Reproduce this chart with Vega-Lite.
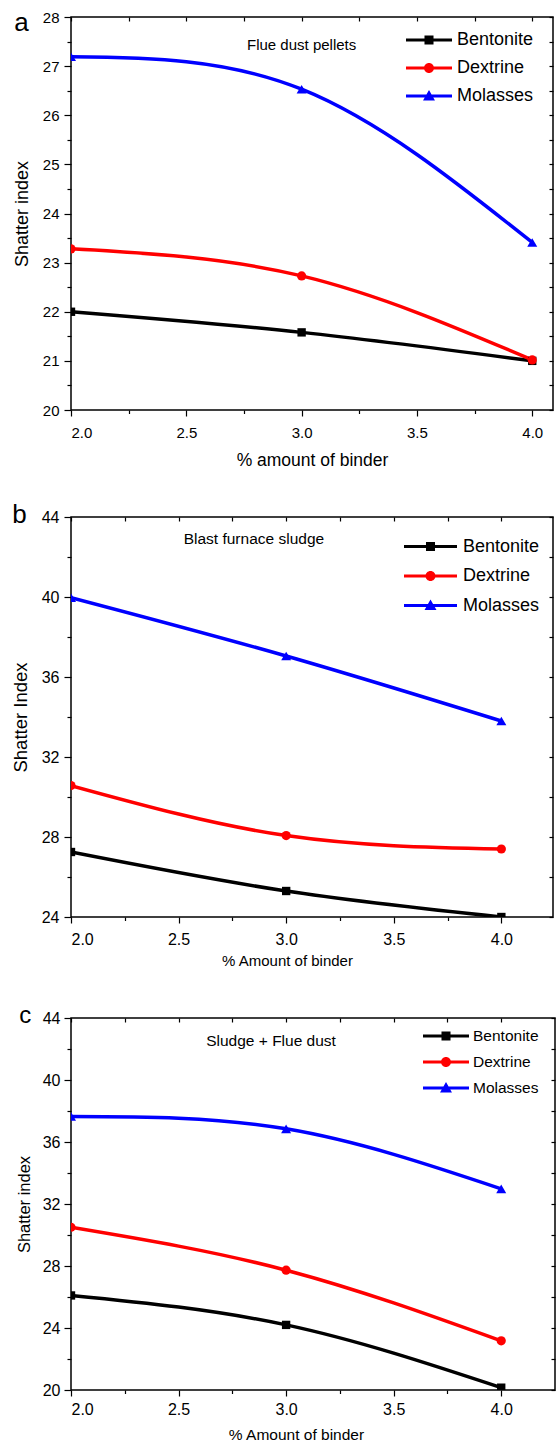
{
  "$schema": "https://vega.github.io/schema/vega-lite/v6.json",
  "background": "white",
  "padding": {"left": 10, "top": 9, "right": 0, "bottom": 0},
  "autosize": {"type": "pad"},
  "config": {
    "font": "Liberation Sans",
    "view": {"stroke": "#000000", "strokeWidth": 1.5},
    "axis": {"domain": false, "grid": false, "tickColor": "#000000", "tickWidth": 1.2, "labelColor": "#000000", "titleColor": "#000000", "labelFont": "Liberation Sans", "titleFont": "Liberation Sans", "titleFontWeight": "normal"},
    "legend": {"labelFont": "Liberation Sans", "labelColor": "#000000", "symbolStrokeWidth": 0, "padding": 0, "labelLimit": 300, "symbolOpacity": 1},
    "title": {"font": "Liberation Sans", "fontWeight": "normal", "color": "#000000"}
  },
  "datasets": {
    "flue_dust": [
      {"binder": "Bentonite", "amount": 2.0, "shatter": 22.0},
      {"binder": "Bentonite", "amount": 3.0, "shatter": 21.58},
      {"binder": "Bentonite", "amount": 4.0, "shatter": 21.0},
      {"binder": "Dextrine", "amount": 2.0, "shatter": 23.28},
      {"binder": "Dextrine", "amount": 3.0, "shatter": 22.73},
      {"binder": "Dextrine", "amount": 4.0, "shatter": 21.02},
      {"binder": "Molasses", "amount": 2.0, "shatter": 27.19},
      {"binder": "Molasses", "amount": 3.0, "shatter": 26.53},
      {"binder": "Molasses", "amount": 4.0, "shatter": 23.41}
    ],
    "sludge": [
      {"binder": "Bentonite", "amount": 2.0, "shatter": 27.25},
      {"binder": "Bentonite", "amount": 3.0, "shatter": 25.3},
      {"binder": "Bentonite", "amount": 4.0, "shatter": 24.0},
      {"binder": "Dextrine", "amount": 2.0, "shatter": 30.57},
      {"binder": "Dextrine", "amount": 3.0, "shatter": 28.07},
      {"binder": "Dextrine", "amount": 4.0, "shatter": 27.4},
      {"binder": "Molasses", "amount": 2.0, "shatter": 39.97},
      {"binder": "Molasses", "amount": 3.0, "shatter": 37.05},
      {"binder": "Molasses", "amount": 4.0, "shatter": 33.8}
    ],
    "mixed": [
      {"binder": "Bentonite", "amount": 2.0, "shatter": 26.1},
      {"binder": "Bentonite", "amount": 3.0, "shatter": 24.2},
      {"binder": "Bentonite", "amount": 4.0, "shatter": 20.15},
      {"binder": "Dextrine", "amount": 2.0, "shatter": 30.5},
      {"binder": "Dextrine", "amount": 3.0, "shatter": 27.73},
      {"binder": "Dextrine", "amount": 4.0, "shatter": 23.17},
      {"binder": "Molasses", "amount": 2.0, "shatter": 37.65},
      {"binder": "Molasses", "amount": 3.0, "shatter": 36.85},
      {"binder": "Molasses", "amount": 4.0, "shatter": 32.98}
    ]
  },
  "bounds": "flush",
  "spacing": 107,
  "resolve": {"scale": {"color": "independent", "shape": "independent"}, "legend": {"color": "independent", "shape": "independent"}},
  "vconcat": [
    {
      "width": 482,
      "height": 393,
      "data": {"name": "flue_dust"},
      "title": {"text": "a", "anchor": "start", "frame": "bounds", "fontSize": 26, "baseline": "alphabetic", "offset": -27, "dy": 20, "dx": 1},
      "encoding": {
        "color": {"field": "binder", "type": "nominal", "scale": {"domain": ["Bentonite", "Dextrine", "Molasses"], "range": ["#000000", "#ff0000", "#0000ff"]},
          "legend": {"title": null, "orient": "none", "legendX": 335, "legendY": 11, "direction": "vertical", "symbolSize": 2116, "clipHeight": 24, "rowPadding": 4, "labelOffset": 5, "labelFontSize": 18}}
      },
      "layer": [
        {
          "mark": {"type": "line", "strokeWidth": 3.5, "interpolate": "natural", "clip": true},
          "encoding": {
            "x": {"field": "amount", "type": "quantitative", "scale": {"domain": [2, 4.09], "nice": false, "zero": false},
              "axis": {"orient": "bottom", "values": [2, 2.5, 3, 3.5, 4], "format": ".1f", "tickSize": 6, "labelPadding": 9, "labelFontSize": 15, "title": "% amount of binder", "titleFontSize": 17.5, "titlePadding": 11}},
            "y": {"field": "shatter", "type": "quantitative", "scale": {"domain": [20, 28], "nice": false, "zero": false},
              "axis": {"orient": "left", "values": [20, 21, 22, 23, 24, 25, 26, 27, 28], "tickSize": 7, "labelPadding": 5, "labelFontSize": 15, "title": "Shatter index", "titleFontSize": 18, "titlePadding": 11}}
          }
        },
        {
          "transform": [{"filter": "datum.binder === 'Bentonite'"}],
          "mark": {"type": "point", "shape": "square", "filled": true, "opacity": 1, "size": 70, "clip": true},
          "encoding": {
            "x": {"field": "amount", "type": "quantitative", "scale": {"domain": [2, 4.09], "nice": false, "zero": false},
              "axis": {"orient": "bottom", "values": [2.25, 2.75, 3.25, 3.75], "tickSize": 3.5, "labels": false, "title": null}},
            "y": {"field": "shatter", "type": "quantitative", "scale": {"domain": [20, 28], "nice": false, "zero": false},
              "axis": {"orient": "left", "values": [20.5, 21.5, 22.5, 23.5, 24.5, 25.5, 26.5, 27.5], "tickSize": 4, "labels": false, "title": null}}
          }
        },
        {
          "transform": [{"filter": "datum.binder === 'Dextrine'"}],
          "mark": {"type": "point", "shape": "circle", "filled": true, "opacity": 1, "size": 85, "clip": true},
          "encoding": {
            "x": {"field": "amount", "type": "quantitative", "scale": {"domain": [2, 4.09], "nice": false, "zero": false}, "axis": null},
            "y": {"field": "shatter", "type": "quantitative", "scale": {"domain": [20, 28], "nice": false, "zero": false}, "axis": null}
          }
        },
        {
          "transform": [{"filter": "datum.binder === 'Molasses'"}],
          "mark": {"type": "point", "shape": "triangle-up", "filled": true, "opacity": 1, "size": 100, "clip": true},
          "encoding": {
            "x": {"field": "amount", "type": "quantitative", "scale": {"domain": [2, 4.09], "nice": false, "zero": false}, "axis": null},
            "y": {"field": "shatter", "type": "quantitative", "scale": {"domain": [20, 28], "nice": false, "zero": false}, "axis": null}
          }
        },
        {
          "transform": [{"filter": "false"}],
          "mark": {"type": "point", "filled": true},
          "encoding": {
            "x": {"field": "amount", "type": "quantitative", "scale": {"domain": [2, 4.09], "nice": false, "zero": false}, "axis": null},
            "y": {"field": "shatter", "type": "quantitative", "scale": {"domain": [20, 28], "nice": false, "zero": false}, "axis": null},
            "shape": {"field": "binder", "type": "nominal",
              "scale": {"domain": ["Bentonite", "Dextrine", "Molasses"], "range": ["M-1,-0.07L1,-0.07L1,0.07L-1,0.07Z M-0.196,-0.196L0.196,-0.196L0.196,0.196L-0.196,0.196Z", "M-1,-0.07L1,-0.07L1,0.07L-1,0.07Z M-0.217,0A0.217,0.217 0 1,1 0.217,0A0.217,0.217 0 1,1 -0.217,0Z", "M-1,-0.07L1,-0.07L1,0.07L-1,0.07Z M0,-0.26L0.26,0.2L-0.26,0.2Z"]},
              "legend": {"title": null, "orient": "none", "legendX": 335, "legendY": 11, "direction": "vertical", "symbolSize": 2116, "clipHeight": 24, "rowPadding": 4, "labelOffset": 5, "labelFontSize": 18}}
          }
        },
        {
          "data": {"values": [{"label": "Flue dust pellets"}]},
          "mark": {"type": "text", "fontSize": 15, "align": "center", "baseline": "middle"},
          "encoding": {
            "x": {"datum": 3.0, "type": "quantitative", "scale": {"domain": [2, 4.09], "nice": false, "zero": false},
              "axis": {"orient": "top", "values": [2, 2.25, 2.5, 2.75, 3, 3.25, 3.5, 3.75, 4], "tickSize": -4, "labels": false, "title": null}},
            "y": {"datum": 27.43, "type": "quantitative", "scale": {"domain": [20, 28], "nice": false, "zero": false},
              "axis": {"orient": "right", "values": [20, 20.5, 21, 21.5, 22, 22.5, 23, 23.5, 24, 24.5, 25, 25.5, 26, 26.5, 27, 27.5, 28], "tickSize": -4, "labels": false, "title": null}},
            "text": {"field": "label"},
            "color": {"value": "#000000"}
          }
        }
      ],
      "resolve": {"axis": {"x": "independent", "y": "independent"}}
    },
    {
      "bounds": "flush",
      "spacing": 101,
      "resolve": {"scale": {"color": "independent", "shape": "independent"}, "legend": {"color": "independent", "shape": "independent"}},
      "vconcat": [
        {
          "width": 482,
          "height": 400,
          "data": {"name": "sludge"},
          "title": {"text": "b", "anchor": "start", "frame": "bounds", "fontSize": 26, "baseline": "alphabetic", "offset": -25, "dy": 15, "dx": 1},
          "encoding": {
            "color": {"field": "binder", "type": "nominal", "scale": {"domain": ["Bentonite", "Dextrine", "Molasses"], "range": ["#000000", "#ff0000", "#0000ff"]},
              "legend": {"title": null, "orient": "none", "legendX": 333, "legendY": 17, "direction": "vertical", "symbolSize": 2809, "clipHeight": 25, "rowPadding": 4.5, "labelOffset": 6, "labelFontSize": 18}}
          },
          "layer": [
            {
              "mark": {"type": "line", "strokeWidth": 3.5, "interpolate": "natural", "clip": true},
              "encoding": {
                "x": {"field": "amount", "type": "quantitative", "scale": {"domain": [2, 4.24], "nice": false, "zero": false},
                  "axis": {"orient": "bottom", "values": [2, 2.5, 3, 3.5, 4], "format": ".1f", "tickSize": 6, "labelPadding": 8, "labelFontSize": 16, "title": "% Amount of binder", "titleFontSize": 15, "titlePadding": 6, "titleX": 216}},
                "y": {"field": "shatter", "type": "quantitative", "scale": {"domain": [24, 44], "nice": false, "zero": false},
                  "axis": {"orient": "left", "values": [24, 28, 32, 36, 40, 44], "tickSize": 7, "labelPadding": 5, "labelFontSize": 16, "title": "Shatter Index", "titleFontSize": 18.5, "titlePadding": 11}}
              }
            },
            {
              "transform": [{"filter": "datum.binder === 'Bentonite'"}],
              "mark": {"type": "point", "shape": "square", "filled": true, "opacity": 1, "size": 70, "clip": true},
              "encoding": {
                "x": {"field": "amount", "type": "quantitative", "scale": {"domain": [2, 4.24], "nice": false, "zero": false},
                  "axis": {"orient": "bottom", "values": [2.25, 2.75, 3.25, 3.75], "tickSize": 3.5, "labels": false, "title": null}},
                "y": {"field": "shatter", "type": "quantitative", "scale": {"domain": [24, 44], "nice": false, "zero": false},
                  "axis": {"orient": "left", "values": [26, 30, 34, 38, 42], "tickSize": 4, "labels": false, "title": null}}
              }
            },
            {
              "transform": [{"filter": "datum.binder === 'Dextrine'"}],
              "mark": {"type": "point", "shape": "circle", "filled": true, "opacity": 1, "size": 85, "clip": true},
              "encoding": {
                "x": {"field": "amount", "type": "quantitative", "scale": {"domain": [2, 4.24], "nice": false, "zero": false}, "axis": null},
                "y": {"field": "shatter", "type": "quantitative", "scale": {"domain": [24, 44], "nice": false, "zero": false}, "axis": null}
              }
            },
            {
              "transform": [{"filter": "datum.binder === 'Molasses'"}],
              "mark": {"type": "point", "shape": "triangle-up", "filled": true, "opacity": 1, "size": 100, "clip": true},
              "encoding": {
                "x": {"field": "amount", "type": "quantitative", "scale": {"domain": [2, 4.24], "nice": false, "zero": false}, "axis": null},
                "y": {"field": "shatter", "type": "quantitative", "scale": {"domain": [24, 44], "nice": false, "zero": false}, "axis": null}
              }
            },
            {
              "transform": [{"filter": "false"}],
              "mark": {"type": "point", "filled": true},
              "encoding": {
                "x": {"field": "amount", "type": "quantitative", "scale": {"domain": [2, 4.24], "nice": false, "zero": false}, "axis": null},
                "y": {"field": "shatter", "type": "quantitative", "scale": {"domain": [24, 44], "nice": false, "zero": false}, "axis": null},
                "shape": {"field": "binder", "type": "nominal",
                  "scale": {"domain": ["Bentonite", "Dextrine", "Molasses"], "range": ["M-1,-0.06L1,-0.06L1,0.06L-1,0.06Z M-0.17,-0.17L0.17,-0.17L0.17,0.17L-0.17,0.17Z", "M-1,-0.06L1,-0.06L1,0.06L-1,0.06Z M-0.189,0A0.189,0.189 0 1,1 0.189,0A0.189,0.189 0 1,1 -0.189,0Z", "M-1,-0.06L1,-0.06L1,0.06L-1,0.06Z M0,-0.226L0.226,0.17L-0.226,0.17Z"]},
                  "legend": {"title": null, "orient": "none", "legendX": 333, "legendY": 17, "direction": "vertical", "symbolSize": 2809, "clipHeight": 25, "rowPadding": 4.5, "labelOffset": 6, "labelFontSize": 18}}
              }
            },
            {
              "data": {"values": [{"label": "Blast furnace sludge"}]},
              "mark": {"type": "text", "fontSize": 15.5, "align": "center", "baseline": "middle"},
              "encoding": {
                "x": {"datum": 2.85, "type": "quantitative", "scale": {"domain": [2, 4.24], "nice": false, "zero": false},
                  "axis": {"orient": "top", "values": [2, 2.25, 2.5, 2.75, 3, 3.25, 3.5, 3.75, 4], "tickSize": -4, "labels": false, "title": null}},
                "y": {"datum": 42.9, "type": "quantitative", "scale": {"domain": [24, 44], "nice": false, "zero": false},
                  "axis": {"orient": "right", "values": [24, 26, 28, 30, 32, 34, 36, 38, 40, 42, 44], "tickSize": -4, "labels": false, "title": null}},
                "text": {"field": "label"},
                "color": {"value": "#000000"}
              }
            }
          ],
          "resolve": {"axis": {"x": "independent", "y": "independent"}}
        },
        {
          "width": 484,
          "height": 372,
          "data": {"name": "mixed"},
          "title": {"text": "c", "anchor": "start", "frame": "bounds", "fontSize": 24, "baseline": "alphabetic", "offset": -22, "dy": 15, "dx": 3},
          "encoding": {
            "color": {"field": "binder", "type": "nominal", "scale": {"domain": ["Bentonite", "Dextrine", "Molasses"], "range": ["#000000", "#ff0000", "#0000ff"]},
              "legend": {"title": null, "orient": "none", "legendX": 352, "legendY": 7, "direction": "vertical", "symbolSize": 2116, "clipHeight": 22, "rowPadding": 4, "labelOffset": 4, "labelFontSize": 15.5}}
          },
          "layer": [
            {
              "mark": {"type": "line", "strokeWidth": 3.5, "interpolate": "natural", "clip": true},
              "encoding": {
                "x": {"field": "amount", "type": "quantitative", "scale": {"domain": [2, 4.25], "nice": false, "zero": false},
                  "axis": {"orient": "bottom", "values": [2, 2.5, 3, 3.5, 4], "format": ".1f", "tickSize": 6, "labelPadding": 5, "labelFontSize": 16, "title": "% Amount of binder", "titleFontSize": 15.5, "titlePadding": 10, "titleX": 225}},
                "y": {"field": "shatter", "type": "quantitative", "scale": {"domain": [20, 44], "nice": false, "zero": false},
                  "axis": {"orient": "left", "values": [20, 24, 28, 32, 36, 40, 44], "tickSize": 7, "labelPadding": 4, "labelFontSize": 16, "title": "Shatter index", "titleFontSize": 16.5, "titlePadding": 10}}
              }
            },
            {
              "transform": [{"filter": "datum.binder === 'Bentonite'"}],
              "mark": {"type": "point", "shape": "square", "filled": true, "opacity": 1, "size": 70, "clip": true},
              "encoding": {
                "x": {"field": "amount", "type": "quantitative", "scale": {"domain": [2, 4.25], "nice": false, "zero": false},
                  "axis": {"orient": "bottom", "values": [2.25, 2.75, 3.25, 3.75], "tickSize": 3.5, "labels": false, "title": null}},
                "y": {"field": "shatter", "type": "quantitative", "scale": {"domain": [20, 44], "nice": false, "zero": false},
                  "axis": {"orient": "left", "values": [22, 26, 30, 34, 38, 42], "tickSize": 4, "labels": false, "title": null}}
              }
            },
            {
              "transform": [{"filter": "datum.binder === 'Dextrine'"}],
              "mark": {"type": "point", "shape": "circle", "filled": true, "opacity": 1, "size": 85, "clip": true},
              "encoding": {
                "x": {"field": "amount", "type": "quantitative", "scale": {"domain": [2, 4.25], "nice": false, "zero": false}, "axis": null},
                "y": {"field": "shatter", "type": "quantitative", "scale": {"domain": [20, 44], "nice": false, "zero": false}, "axis": null}
              }
            },
            {
              "transform": [{"filter": "datum.binder === 'Molasses'"}],
              "mark": {"type": "point", "shape": "triangle-up", "filled": true, "opacity": 1, "size": 100, "clip": true},
              "encoding": {
                "x": {"field": "amount", "type": "quantitative", "scale": {"domain": [2, 4.25], "nice": false, "zero": false}, "axis": null},
                "y": {"field": "shatter", "type": "quantitative", "scale": {"domain": [20, 44], "nice": false, "zero": false}, "axis": null}
              }
            },
            {
              "transform": [{"filter": "false"}],
              "mark": {"type": "point", "filled": true},
              "encoding": {
                "x": {"field": "amount", "type": "quantitative", "scale": {"domain": [2, 4.25], "nice": false, "zero": false}, "axis": null},
                "y": {"field": "shatter", "type": "quantitative", "scale": {"domain": [20, 44], "nice": false, "zero": false}, "axis": null},
                "shape": {"field": "binder", "type": "nominal",
                  "scale": {"domain": ["Bentonite", "Dextrine", "Molasses"], "range": ["M-1,-0.07L1,-0.07L1,0.07L-1,0.07Z M-0.196,-0.196L0.196,-0.196L0.196,0.196L-0.196,0.196Z", "M-1,-0.07L1,-0.07L1,0.07L-1,0.07Z M-0.217,0A0.217,0.217 0 1,1 0.217,0A0.217,0.217 0 1,1 -0.217,0Z", "M-1,-0.07L1,-0.07L1,0.07L-1,0.07Z M0,-0.26L0.26,0.2L-0.26,0.2Z"]},
                  "legend": {"title": null, "orient": "none", "legendX": 352, "legendY": 7, "direction": "vertical", "symbolSize": 2116, "clipHeight": 22, "rowPadding": 4, "labelOffset": 4, "labelFontSize": 15.5}}
              }
            },
            {
              "data": {"values": [{"label": "Sludge + Flue dust"}]},
              "mark": {"type": "text", "fontSize": 15.5, "align": "center", "baseline": "middle"},
              "encoding": {
                "x": {"datum": 2.93, "type": "quantitative", "scale": {"domain": [2, 4.25], "nice": false, "zero": false},
                  "axis": {"orient": "top", "values": [2, 2.25, 2.5, 2.75, 3, 3.25, 3.5, 3.75, 4], "tickSize": -4, "labels": false, "title": null}},
                "y": {"datum": 42.49, "type": "quantitative", "scale": {"domain": [20, 44], "nice": false, "zero": false},
                  "axis": {"orient": "right", "values": [20, 22, 24, 26, 28, 30, 32, 34, 36, 38, 40, 42, 44], "tickSize": -4, "labels": false, "title": null}},
                "text": {"field": "label"},
                "color": {"value": "#000000"}
              }
            }
          ],
          "resolve": {"axis": {"x": "independent", "y": "independent"}}
        }
      ]
    }
  ]
}
